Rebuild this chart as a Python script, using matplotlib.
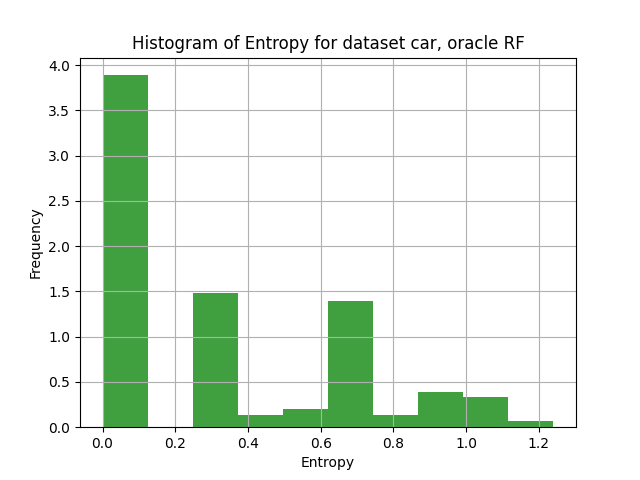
import matplotlib
matplotlib.use("Agg")
import matplotlib.pyplot as plt
import numpy as np

bin_edges = np.linspace(0, 1.24, 11)
density = [3.89, 0.0, 1.48, 0.13, 0.2, 1.4, 0.13, 0.39, 0.33, 0.07]

fig, ax = plt.subplots(figsize=(6.4, 4.8), dpi=100)
ax.hist(bin_edges[:-1], bins=bin_edges, weights=density, color='g', alpha=0.75)
ax.grid(True)
ax.set_xlabel('Entropy')
ax.set_ylabel('Frequency')
ax.set_title('Histogram of Entropy for dataset car, oracle RF')
fig.savefig('out.png')
